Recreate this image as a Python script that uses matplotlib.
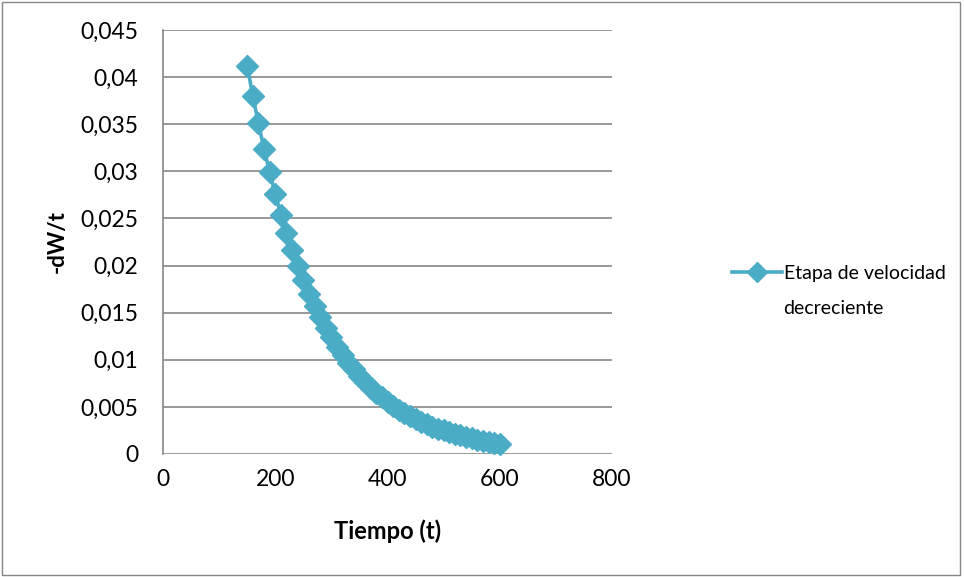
import matplotlib.pyplot as plt
from matplotlib.lines import Line2D
from matplotlib.patches import Rectangle
from matplotlib.ticker import FuncFormatter

plt.rcParams['font.family'] = ['Lato', 'DejaVu Sans']

# tiempo (t) y -dW/t
tiempo = [150, 160, 170, 180, 190, 200, 210, 220, 230, 240,
          250, 260, 270, 280, 290, 300, 310, 320, 330, 340,
          350, 360, 370, 380, 390, 400, 410, 420, 430, 440,
          450, 460, 470, 480, 490, 500, 510, 520, 530, 540,
          550, 560, 570, 580, 590, 600]
dw_t = [0.0412, 0.0380, 0.0351, 0.0324, 0.0299, 0.0276, 0.0254, 0.0235, 0.0217, 0.0200,
        0.0185, 0.0170, 0.0157, 0.0145, 0.0134, 0.0124, 0.0114, 0.0105, 0.0097, 0.0090,
        0.0083, 0.0076, 0.0070, 0.0065, 0.0060, 0.0055, 0.0051, 0.0047, 0.0044, 0.0040,
        0.0037, 0.0034, 0.0032, 0.0029, 0.0027, 0.0025, 0.0023, 0.0021, 0.0020, 0.0018,
        0.0017, 0.0015, 0.0014, 0.0013, 0.0012, 0.0011]
serie = 'Etapa de velocidad'
serie2 = 'decreciente'
xticks = [0, 200, 400, 600, 800]
yticks = [0, 0.005, 0.01, 0.015, 0.02, 0.025, 0.03, 0.035, 0.04, 0.045]

color = '#4BACC6'
gris = '#868686'

fig = plt.figure(figsize=(9.64, 5.77), dpi=100)
ax = fig.add_axes([163/964, 1-454/577, (612-163)/964, (454-30)/577])

ax.plot(tiempo, dw_t, color=color, lw=2.6, marker='D', ms=11, zorder=3, clip_on=False)

ax.set_xlim(0, 800)
ax.set_ylim(0, 0.045)
ax.set_xticks(xticks)
ax.set_yticks(yticks)
ax.yaxis.set_major_formatter(FuncFormatter(lambda v, p: '{:g}'.format(round(v, 4)).replace('.', ',')))
ax.tick_params(length=0, labelsize=16.5)
ax.tick_params(axis='y', pad=18)
ax.tick_params(axis='x', pad=11)
ax.grid(axis='y', color=gris, lw=1.2)
ax.set_axisbelow(True)
for s in ['top', 'right', 'bottom']:
    ax.spines[s].set_visible(False)
ax.spines['left'].set_color(gris)
ax.spines['left'].set_linewidth(1.2)

ax.set_xlabel('Tiempo (t)', fontsize=17, fontweight='bold', labelpad=21)
ax.set_ylabel('-dW/t', fontsize=16, fontweight='bold', labelpad=9)

# leyenda
h = Line2D([], [], color=color, lw=2.6, marker='D', ms=10)
fig.legend([h], [serie], loc='center left', bbox_to_anchor=(714/964, 1-273/577),
           frameon=False, fontsize=14, handlelength=2.6, handletextpad=0.1)
fig.text(783/964, 1-308/577, serie2, fontsize=14, va='center', ha='left')

fig.patches.append(Rectangle((2/964, 2/577), 958/964, 573/577, transform=fig.transFigure,
                             fill=False, edgecolor=gris, lw=1))

fig.savefig('out.png', dpi=100)
